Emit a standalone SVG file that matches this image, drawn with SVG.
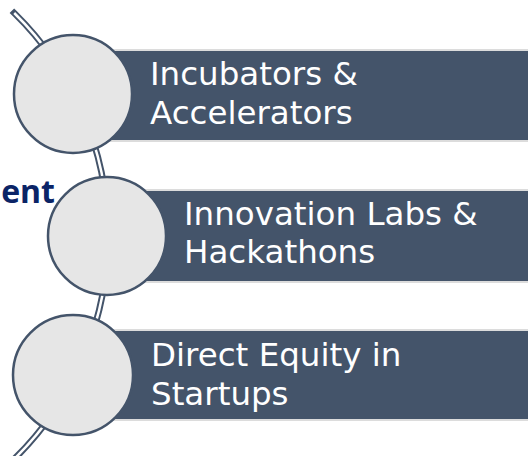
<svg xmlns="http://www.w3.org/2000/svg" width="528" height="456" viewBox="0 0 528 456">
<style>
.bar{fill:#44546A;stroke:#DCDCDC;stroke-width:2}
.dot{fill:#E6E6E6;stroke:#44546A;stroke-width:2.5}
.lbl{fill:#FFFFFF;font-family:"DejaVu Sans",sans-serif;font-size:32.5px}
.arc-o{fill:none;stroke:#44546A;stroke-width:6.5;stroke-linecap:square}
.arc-i{fill:none;stroke:#FFFFFF;stroke-width:2.5}
</style>
<rect width="528" height="456" fill="#FFFFFF"/>
<text x="55" y="203" text-anchor="end" style="fill:#0B2466;font-family:'Open Sans',sans-serif;font-weight:700;font-size:32px">ent</text>
<g id="connectors">
<path class="arc-o" d="M 14.2 13 A 312 312 0 0 1 11.1 462"/>
<path class="arc-i" d="M 14.2 13 A 312 312 0 0 1 11.1 462"/>
</g>
<g id="node1">
<rect class="bar" x="100" y="50" width="440" height="91"/>
<circle class="dot" cx="73" cy="94" r="59"/>
<text class="lbl" x="150" y="85">Incubators &amp;</text>
<text class="lbl" x="150" y="124">Accelerators</text>
</g>
<g id="node2">
<rect class="bar" x="130" y="190" width="410" height="92"/>
<circle class="dot" cx="107" cy="236" r="59"/>
<text class="lbl" x="184" y="225">Innovation Labs &amp;</text>
<text class="lbl" x="184" y="263">Hackathons</text>
</g>
<g id="node3">
<rect class="bar" x="100" y="330" width="440" height="90"/>
<circle class="dot" cx="73" cy="375" r="60"/>
<text class="lbl" x="151" y="366">Direct Equity in</text>
<text class="lbl" x="151" y="405">Startups</text>
</g>
</svg>
